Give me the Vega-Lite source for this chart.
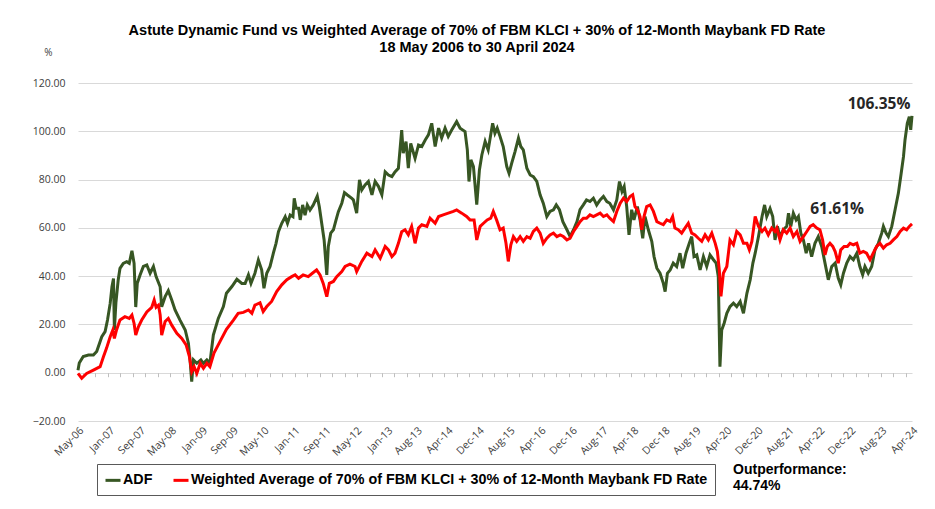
{
"$schema": "https://vega.github.io/schema/vega-lite/v6.json",
"width": 834, "height": 338,
"autosize": "none",
"padding": {"left": 78, "top": 83, "right": 23, "bottom": 88},
"background": "white",
"config": {"view": {"stroke": null}},
"title": {"text": ["Astute Dynamic Fund vs Weighted Average of 70% of FBM KLCI + 30% of 12-Month Maybank FD  Rate", "18 May 2006 to 30 April 2024"], "anchor": "middle", "dx": -18, "font": "Liberation Sans", "fontSize": 14.5, "fontWeight": "bold", "color": "#000000", "lineHeight": 17, "offset": -8},
"resolve": {"axis": {"x": "independent"}},
"datasets": {
"adf": [
{"d":"2006-05-18","v":1.0},{"d":"2006-05-28","v":4.0},{"d":"2006-06-28","v":6.7},{"d":"2006-08-08","v":7.3},{"d":"2006-09-16","v":7.3},{"d":"2006-10-12","v":8.8},{"d":"2006-11-21","v":14.9},{"d":"2006-12-17","v":17.0},{"d":"2007-01-05","v":21.8},{"d":"2007-01-26","v":28.7},{"d":"2007-02-09","v":35.6},{"d":"2007-02-21","v":39.0},{"d":"2007-02-28","v":17.7},{"d":"2007-03-12","v":28.9},{"d":"2007-03-30","v":38.4},{"d":"2007-04-13","v":43.2},{"d":"2007-05-09","v":45.3},{"d":"2007-06-05","v":46.0},{"d":"2007-06-25","v":45.3},{"d":"2007-07-16","v":50.5},{"d":"2007-08-02","v":45.3},{"d":"2007-08-15","v":27.2},{"d":"2007-08-27","v":37.0},{"d":"2007-09-18","v":40.5},{"d":"2007-10-14","v":44.0},{"d":"2007-11-10","v":44.6},{"d":"2007-12-06","v":41.2},{"d":"2008-01-01","v":44.0},{"d":"2008-01-22","v":39.8},{"d":"2008-02-23","v":35.6},{"d":"2008-03-06","v":27.3},{"d":"2008-04-02","v":31.5},{"d":"2008-04-27","v":34.0},{"d":"2008-05-24","v":30.1},{"d":"2008-06-19","v":26.0},{"d":"2008-07-28","v":21.8},{"d":"2008-09-07","v":17.7},{"d":"2008-10-02","v":12.2},{"d":"2008-10-15","v":5.3},{"d":"2008-10-28","v":-3.7},{"d":"2008-11-11","v":5.3},{"d":"2008-12-07","v":3.9},{"d":"2009-01-08","v":5.3},{"d":"2009-01-28","v":3.9},{"d":"2009-02-24","v":5.3},{"d":"2009-03-20","v":3.9},{"d":"2009-04-16","v":15.6},{"d":"2009-05-25","v":22.5},{"d":"2009-07-04","v":27.4},{"d":"2009-07-28","v":32.9},{"d":"2009-09-09","v":35.7},{"d":"2009-10-18","v":38.7},{"d":"2009-11-26","v":37.0},{"d":"2009-12-22","v":37.0},{"d":"2010-01-17","v":40.5},{"d":"2010-02-06","v":37.0},{"d":"2010-03-09","v":41.2},{"d":"2010-04-05","v":46.7},{"d":"2010-05-01","v":42.6},{"d":"2010-05-19","v":35.0},{"d":"2010-06-10","v":41.2},{"d":"2010-07-06","v":44.0},{"d":"2010-08-01","v":49.5},{"d":"2010-08-22","v":53.6},{"d":"2010-09-10","v":58.4},{"d":"2010-10-06","v":61.9},{"d":"2010-11-02","v":64.6},{"d":"2010-11-20","v":61.9},{"d":"2010-12-11","v":65.3},{"d":"2011-01-02","v":64.6},{"d":"2011-01-12","v":72.2},{"d":"2011-01-27","v":68.1},{"d":"2011-02-15","v":68.1},{"d":"2011-02-28","v":63.3},{"d":"2011-03-19","v":69.5},{"d":"2011-04-07","v":65.3},{"d":"2011-04-25","v":69.5},{"d":"2011-05-16","v":67.4},{"d":"2011-06-11","v":69.5},{"d":"2011-07-12","v":73.1},{"d":"2011-07-28","v":68.8},{"d":"2011-08-16","v":61.9},{"d":"2011-09-04","v":55.0},{"d":"2011-09-25","v":40.5},{"d":"2011-10-07","v":52.3},{"d":"2011-10-26","v":57.8},{"d":"2011-11-16","v":59.2},{"d":"2011-12-07","v":63.3},{"d":"2011-12-25","v":66.7},{"d":"2012-01-21","v":70.2},{"d":"2012-02-11","v":74.6},{"d":"2012-03-05","v":73.6},{"d":"2012-04-09","v":72.2},{"d":"2012-04-21","v":71.6},{"d":"2012-05-17","v":66.1},{"d":"2012-06-08","v":79.9},{"d":"2012-06-26","v":75.7},{"d":"2012-07-22","v":77.8},{"d":"2012-08-17","v":79.2},{"d":"2012-09-14","v":73.7},{"d":"2012-10-09","v":79.2},{"d":"2012-11-05","v":77.1},{"d":"2012-12-01","v":73.7},{"d":"2012-12-27","v":83.2},{"d":"2013-01-22","v":81.9},{"d":"2013-02-18","v":81.2},{"d":"2013-03-14","v":83.2},{"d":"2013-04-10","v":84.7},{"d":"2013-05-06","v":100.5},{"d":"2013-05-18","v":90.9},{"d":"2013-06-09","v":95.7},{"d":"2013-06-27","v":84.7},{"d":"2013-07-16","v":95.0},{"d":"2013-08-19","v":88.8},{"d":"2013-09-15","v":94.3},{"d":"2013-10-11","v":93.7},{"d":"2013-11-07","v":96.4},{"d":"2013-12-02","v":98.5},{"d":"2013-12-28","v":103.3},{"d":"2014-01-24","v":93.7},{"d":"2014-02-20","v":101.3},{"d":"2014-03-16","v":97.2},{"d":"2014-04-12","v":101.3},{"d":"2014-05-07","v":97.9},{"d":"2014-06-03","v":100.5},{"d":"2014-07-12","v":104.0},{"d":"2014-08-08","v":101.3},{"d":"2014-09-16","v":99.9},{"d":"2014-10-04","v":92.3},{"d":"2014-10-17","v":79.2},{"d":"2014-11-01","v":88.2},{"d":"2014-11-21","v":85.4},{"d":"2014-12-17","v":69.6},{"d":"2015-01-07","v":84.0},{"d":"2015-01-26","v":90.2},{"d":"2015-02-21","v":95.8},{"d":"2015-03-17","v":92.3},{"d":"2015-04-21","v":103.3},{"d":"2015-05-09","v":99.2},{"d":"2015-05-27","v":101.3},{"d":"2015-06-18","v":97.9},{"d":"2015-07-13","v":93.7},{"d":"2015-08-10","v":85.4},{"d":"2015-08-28","v":82.6},{"d":"2015-09-18","v":86.8},{"d":"2015-10-14","v":91.6},{"d":"2015-11-10","v":97.2},{"d":"2015-11-28","v":93.7},{"d":"2015-12-18","v":92.3},{"d":"2016-01-15","v":84.7},{"d":"2016-02-10","v":81.9},{"d":"2016-03-06","v":81.2},{"d":"2016-04-02","v":79.2},{"d":"2016-04-28","v":73.7},{"d":"2016-05-23","v":70.2},{"d":"2016-06-20","v":64.7},{"d":"2016-07-15","v":66.8},{"d":"2016-08-11","v":67.5},{"d":"2016-09-02","v":69.5},{"d":"2016-09-27","v":67.5},{"d":"2016-10-24","v":62.6},{"d":"2016-11-25","v":59.2},{"d":"2016-12-20","v":56.4},{"d":"2017-01-16","v":59.2},{"d":"2017-02-12","v":62.6},{"d":"2017-03-08","v":67.5},{"d":"2017-04-03","v":69.5},{"d":"2017-04-28","v":71.6},{"d":"2017-05-25","v":70.9},{"d":"2017-06-21","v":72.3},{"d":"2017-07-17","v":69.5},{"d":"2017-08-13","v":71.6},{"d":"2017-09-08","v":73.0},{"d":"2017-10-05","v":70.9},{"d":"2017-10-28","v":70.2},{"d":"2017-11-26","v":67.5},{"d":"2017-12-22","v":71.6},{"d":"2018-01-12","v":79.2},{"d":"2018-02-01","v":75.1},{"d":"2018-02-18","v":77.1},{"d":"2018-03-10","v":68.8},{"d":"2018-03-28","v":57.1},{"d":"2018-04-18","v":67.5},{"d":"2018-05-06","v":63.3},{"d":"2018-06-02","v":68.8},{"d":"2018-06-23","v":63.3},{"d":"2018-07-14","v":55.7},{"d":"2018-08-01","v":64.7},{"d":"2018-08-27","v":59.2},{"d":"2018-09-23","v":54.4},{"d":"2018-10-11","v":48.1},{"d":"2018-11-02","v":43.3},{"d":"2018-11-27","v":41.2},{"d":"2018-12-23","v":37.0},{"d":"2019-01-06","v":33.6},{"d":"2019-01-24","v":41.2},{"d":"2019-02-15","v":42.6},{"d":"2019-03-11","v":45.4},{"d":"2019-04-07","v":44.0},{"d":"2019-05-03","v":49.5},{"d":"2019-05-24","v":43.3},{"d":"2019-06-19","v":49.5},{"d":"2019-07-15","v":53.6},{"d":"2019-08-03","v":56.4},{"d":"2019-08-21","v":48.1},{"d":"2019-09-12","v":48.8},{"d":"2019-10-08","v":42.6},{"d":"2019-11-03","v":48.1},{"d":"2019-11-29","v":44.0},{"d":"2019-12-25","v":48.8},{"d":"2020-01-21","v":46.8},{"d":"2020-02-11","v":45.4},{"d":"2020-02-28","v":39.9},{"d":"2020-03-12","v":2.5},{"d":"2020-03-26","v":17.7},{"d":"2020-04-14","v":20.5},{"d":"2020-05-05","v":24.6},{"d":"2020-05-30","v":27.4},{"d":"2020-06-26","v":28.8},{"d":"2020-07-22","v":27.4},{"d":"2020-08-18","v":29.5},{"d":"2020-09-13","v":24.6},{"d":"2020-10-10","v":32.9},{"d":"2020-11-05","v":38.5},{"d":"2020-11-26","v":45.4},{"d":"2020-12-14","v":49.5},{"d":"2021-01-09","v":56.4},{"d":"2021-02-06","v":64.7},{"d":"2021-02-26","v":69.5},{"d":"2021-03-15","v":64.7},{"d":"2021-04-10","v":68.0},{"d":"2021-05-01","v":64.7},{"d":"2021-05-19","v":55.0},{"d":"2021-06-07","v":60.6},{"d":"2021-06-27","v":56.4},{"d":"2021-07-23","v":59.2},{"d":"2021-08-19","v":60.6},{"d":"2021-09-02","v":66.1},{"d":"2021-09-20","v":60.6},{"d":"2021-10-10","v":66.1},{"d":"2021-11-01","v":63.3},{"d":"2021-11-19","v":64.7},{"d":"2021-12-08","v":57.8},{"d":"2021-12-28","v":55.0},{"d":"2022-01-19","v":49.5},{"d":"2022-02-07","v":53.6},{"d":"2022-03-03","v":48.1},{"d":"2022-03-29","v":53.6},{"d":"2022-04-24","v":56.4},{"d":"2022-05-21","v":52.3},{"d":"2022-06-16","v":45.4},{"d":"2022-07-12","v":38.5},{"d":"2022-08-08","v":44.0},{"d":"2022-09-04","v":45.4},{"d":"2022-09-28","v":39.2},{"d":"2022-10-18","v":36.4},{"d":"2022-11-08","v":41.2},{"d":"2022-12-04","v":45.4},{"d":"2022-12-30","v":48.1},{"d":"2023-01-25","v":46.8},{"d":"2023-02-21","v":49.5},{"d":"2023-03-17","v":44.0},{"d":"2023-04-08","v":40.6},{"d":"2023-04-26","v":44.0},{"d":"2023-05-22","v":41.2},{"d":"2023-06-18","v":44.0},{"d":"2023-07-14","v":50.9},{"d":"2023-08-09","v":53.6},{"d":"2023-09-05","v":57.8},{"d":"2023-09-18","v":60.6},{"d":"2023-10-09","v":57.8},{"d":"2023-10-27","v":56.4},{"d":"2023-11-23","v":60.6},{"d":"2023-12-19","v":67.5},{"d":"2024-01-14","v":74.4},{"d":"2024-02-05","v":82.6},{"d":"2024-02-23","v":89.5},{"d":"2024-03-06","v":96.4},{"d":"2024-03-24","v":103.3},{"d":"2024-04-09","v":106.1},{"d":"2024-04-20","v":100.6},{"d":"2024-04-30","v":106.35}
],
"wa": [
{"d":"2006-05-18","v":-0.3},{"d":"2006-06-16","v":-2.3},{"d":"2006-07-25","v":-0.3},{"d":"2006-09-16","v":1.1},{"d":"2006-11-08","v":2.5},{"d":"2006-12-04","v":6.6},{"d":"2006-12-28","v":10.1},{"d":"2007-01-26","v":14.9},{"d":"2007-02-16","v":17.7},{"d":"2007-02-28","v":14.2},{"d":"2007-03-17","v":17.7},{"d":"2007-04-13","v":21.8},{"d":"2007-05-22","v":23.2},{"d":"2007-06-25","v":22.5},{"d":"2007-07-16","v":23.9},{"d":"2007-08-02","v":20.4},{"d":"2007-08-15","v":15.6},{"d":"2007-09-05","v":19.0},{"d":"2007-10-01","v":21.8},{"d":"2007-11-10","v":25.2},{"d":"2007-12-19","v":27.1},{"d":"2008-01-07","v":30.1},{"d":"2008-01-22","v":27.1},{"d":"2008-02-10","v":28.0},{"d":"2008-02-23","v":23.9},{"d":"2008-03-06","v":15.6},{"d":"2008-04-02","v":21.2},{"d":"2008-04-27","v":22.5},{"d":"2008-05-24","v":19.7},{"d":"2008-07-03","v":16.3},{"d":"2008-08-11","v":14.2},{"d":"2008-09-14","v":11.5},{"d":"2008-10-10","v":6.7},{"d":"2008-10-28","v":0.4},{"d":"2008-11-16","v":2.5},{"d":"2008-12-07","v":-0.3},{"d":"2009-01-03","v":3.9},{"d":"2009-01-28","v":1.8},{"d":"2009-02-24","v":3.9},{"d":"2009-03-20","v":2.5},{"d":"2009-04-21","v":8.1},{"d":"2009-06-08","v":13.0},{"d":"2009-07-28","v":18.0},{"d":"2009-09-21","v":21.8},{"d":"2009-10-28","v":24.6},{"d":"2009-12-08","v":25.0},{"d":"2010-01-17","v":26.0},{"d":"2010-02-13","v":24.6},{"d":"2010-03-09","v":28.0},{"d":"2010-04-18","v":29.0},{"d":"2010-05-13","v":25.3},{"d":"2010-06-10","v":27.4},{"d":"2010-07-18","v":29.5},{"d":"2010-08-27","v":33.6},{"d":"2010-10-06","v":36.4},{"d":"2010-11-15","v":38.5},{"d":"2010-12-23","v":39.8},{"d":"2011-01-19","v":40.5},{"d":"2011-02-15","v":39.1},{"d":"2011-03-23","v":40.5},{"d":"2011-05-02","v":39.8},{"d":"2011-06-11","v":41.5},{"d":"2011-07-07","v":42.6},{"d":"2011-08-03","v":40.5},{"d":"2011-08-28","v":37.0},{"d":"2011-09-25","v":31.5},{"d":"2011-10-15","v":37.0},{"d":"2011-11-16","v":37.8},{"d":"2011-12-12","v":39.8},{"d":"2012-01-21","v":41.9},{"d":"2012-02-16","v":44.0},{"d":"2012-03-25","v":45.0},{"d":"2012-05-04","v":44.0},{"d":"2012-05-17","v":41.9},{"d":"2012-06-26","v":46.1},{"d":"2012-08-05","v":49.5},{"d":"2012-09-14","v":48.1},{"d":"2012-10-09","v":50.9},{"d":"2012-11-18","v":47.4},{"d":"2012-12-27","v":52.3},{"d":"2013-01-22","v":50.9},{"d":"2013-02-18","v":48.1},{"d":"2013-03-14","v":49.5},{"d":"2013-04-10","v":53.6},{"d":"2013-05-06","v":58.4},{"d":"2013-06-01","v":59.2},{"d":"2013-06-27","v":57.1},{"d":"2013-07-23","v":60.6},{"d":"2013-08-19","v":53.6},{"d":"2013-09-15","v":59.9},{"d":"2013-10-11","v":61.3},{"d":"2013-11-20","v":60.6},{"d":"2013-12-15","v":64.0},{"d":"2014-01-24","v":61.9},{"d":"2014-02-20","v":64.7},{"d":"2014-03-28","v":65.4},{"d":"2014-05-07","v":66.1},{"d":"2014-06-16","v":66.8},{"d":"2014-07-12","v":67.4},{"d":"2014-08-21","v":66.1},{"d":"2014-09-28","v":64.7},{"d":"2014-10-25","v":63.3},{"d":"2014-11-26","v":63.3},{"d":"2014-12-17","v":55.0},{"d":"2015-01-13","v":60.6},{"d":"2015-02-08","v":61.9},{"d":"2015-03-09","v":63.3},{"d":"2015-04-06","v":64.0},{"d":"2015-04-26","v":66.8},{"d":"2015-05-22","v":63.3},{"d":"2015-06-18","v":59.2},{"d":"2015-07-13","v":59.9},{"d":"2015-08-04","v":53.6},{"d":"2015-08-22","v":46.1},{"d":"2015-09-11","v":53.0},{"d":"2015-10-01","v":56.4},{"d":"2015-10-27","v":54.4},{"d":"2015-11-23","v":56.4},{"d":"2015-12-18","v":54.4},{"d":"2016-01-15","v":56.4},{"d":"2016-02-10","v":55.7},{"d":"2016-03-06","v":58.5},{"d":"2016-04-02","v":59.9},{"d":"2016-04-28","v":57.8},{"d":"2016-05-23","v":53.6},{"d":"2016-06-20","v":55.7},{"d":"2016-07-15","v":57.1},{"d":"2016-08-11","v":57.8},{"d":"2016-09-07","v":56.4},{"d":"2016-10-03","v":57.1},{"d":"2016-10-28","v":56.4},{"d":"2016-11-25","v":55.0},{"d":"2016-12-20","v":55.7},{"d":"2017-01-16","v":58.5},{"d":"2017-02-12","v":60.6},{"d":"2017-03-08","v":62.6},{"d":"2017-04-03","v":64.0},{"d":"2017-04-28","v":64.0},{"d":"2017-05-25","v":65.4},{"d":"2017-06-21","v":64.7},{"d":"2017-07-17","v":65.4},{"d":"2017-08-13","v":66.1},{"d":"2017-09-08","v":64.7},{"d":"2017-10-05","v":65.4},{"d":"2017-10-28","v":64.0},{"d":"2017-11-26","v":62.6},{"d":"2017-12-22","v":66.8},{"d":"2018-01-18","v":70.2},{"d":"2018-02-13","v":72.3},{"d":"2018-03-10","v":70.9},{"d":"2018-04-05","v":73.0},{"d":"2018-04-26","v":73.7},{"d":"2018-05-14","v":68.8},{"d":"2018-06-02","v":67.5},{"d":"2018-06-23","v":64.7},{"d":"2018-07-06","v":59.2},{"d":"2018-07-24","v":64.7},{"d":"2018-08-14","v":68.8},{"d":"2018-09-10","v":69.5},{"d":"2018-10-06","v":66.8},{"d":"2018-11-02","v":62.6},{"d":"2018-11-27","v":61.9},{"d":"2018-12-23","v":61.3},{"d":"2019-01-19","v":63.3},{"d":"2019-02-15","v":62.6},{"d":"2019-03-06","v":64.7},{"d":"2019-03-24","v":59.9},{"d":"2019-04-19","v":59.2},{"d":"2019-05-16","v":57.8},{"d":"2019-06-11","v":59.9},{"d":"2019-07-07","v":61.9},{"d":"2019-08-03","v":57.8},{"d":"2019-08-29","v":57.1},{"d":"2019-09-24","v":55.7},{"d":"2019-10-21","v":54.4},{"d":"2019-11-16","v":57.1},{"d":"2019-12-12","v":55.0},{"d":"2020-01-08","v":57.8},{"d":"2020-02-04","v":53.6},{"d":"2020-02-21","v":50.2},{"d":"2020-03-07","v":42.6},{"d":"2020-03-20","v":31.6},{"d":"2020-04-08","v":41.2},{"d":"2020-05-05","v":44.0},{"d":"2020-05-30","v":55.0},{"d":"2020-06-26","v":53.0},{"d":"2020-07-22","v":58.5},{"d":"2020-08-18","v":57.1},{"d":"2020-09-13","v":53.6},{"d":"2020-10-10","v":53.6},{"d":"2020-10-29","v":50.9},{"d":"2020-11-18","v":54.4},{"d":"2020-12-14","v":64.7},{"d":"2021-01-09","v":60.6},{"d":"2021-02-06","v":58.5},{"d":"2021-03-01","v":59.9},{"d":"2021-03-27","v":57.1},{"d":"2021-04-23","v":59.9},{"d":"2021-05-19","v":58.5},{"d":"2021-06-02","v":59.9},{"d":"2021-06-27","v":55.0},{"d":"2021-07-23","v":59.2},{"d":"2021-08-19","v":57.8},{"d":"2021-09-15","v":59.9},{"d":"2021-10-10","v":56.4},{"d":"2021-11-07","v":58.5},{"d":"2021-12-02","v":54.4},{"d":"2021-12-28","v":56.4},{"d":"2022-01-24","v":58.5},{"d":"2022-02-19","v":60.6},{"d":"2022-03-15","v":61.3},{"d":"2022-04-12","v":59.9},{"d":"2022-05-07","v":59.2},{"d":"2022-05-28","v":55.0},{"d":"2022-06-16","v":48.8},{"d":"2022-07-04","v":52.3},{"d":"2022-07-25","v":53.6},{"d":"2022-08-16","v":52.3},{"d":"2022-09-04","v":50.2},{"d":"2022-09-28","v":45.4},{"d":"2022-10-18","v":50.9},{"d":"2022-11-13","v":52.3},{"d":"2022-12-09","v":52.3},{"d":"2022-12-30","v":53.6},{"d":"2023-01-25","v":53.0},{"d":"2023-02-21","v":53.6},{"d":"2023-03-17","v":49.5},{"d":"2023-04-13","v":50.2},{"d":"2023-05-09","v":49.5},{"d":"2023-06-05","v":46.8},{"d":"2023-06-30","v":49.5},{"d":"2023-07-27","v":52.3},{"d":"2023-08-22","v":53.6},{"d":"2023-09-18","v":51.6},{"d":"2023-10-14","v":53.0},{"d":"2023-11-10","v":53.6},{"d":"2023-12-05","v":55.0},{"d":"2024-01-02","v":56.4},{"d":"2024-01-28","v":58.5},{"d":"2024-02-23","v":59.9},{"d":"2024-03-19","v":59.2},{"d":"2024-04-09","v":60.6},{"d":"2024-04-30","v":61.61}
],
"pct": [
{"d":"2023-08-15","v":111.2,"t":"106.35%"},
{"d":"2022-09-19","v":67.8,"t":"61.61%"}
],
"outp": [
{"d":"2020-06-23","v":-40.3,"t":"Outperformance:"},
{"d":"2020-06-23","v":-46.9,"t":"44.74%"}
]
},
"encoding": {
"y": {"field": "v", "type": "quantitative",
"scale": {"domain": [-20, 120], "nice": false, "zero": false},
"axis": {"title": "%", "titleAngle": 0, "titleX": -30, "titleY": -31, "titleAlign": "center", "titleBaseline": "middle", "titleFont": "Open Sans", "titleFontSize": 10, "titleFontWeight": "normal", "titleColor": "#404040",
"values": [-20, 0, 20, 40, 60, 80, 100, 120], "format": ".2f", "grid": true, "gridColor": "#d9d9d9", "gridWidth": 1, "domain": false, "ticks": false, "labelPadding": 13, "labelFont": "Open Sans", "labelFontSize": 10.5, "labelColor": "#404040"}}
},
"layer": [
{
"data": {"name": "adf"},
"mark": {"type": "line", "strokeWidth": 3, "interpolate": "linear"},
"encoding": {
"x": {"field": "d", "type": "temporal",
"scale": {"type": "utc", "domain": [{"year": 2006, "month": 5, "date": 18, "utc": true}, {"year": 2024, "month": 4, "date": 30, "utc": true}]},
"axis": {"orient": "bottom", "title": null, "format": "%b-%y", "labelAngle": -45, "grid": false, "domain": false, "ticks": false, "labelPadding": 4, "labelFont": "Open Sans", "labelFontSize": 10.5, "labelColor": "#404040", "labelOverlap": false, "labelBound": false, "labelFlush": false,
"values": [
{"year":2006,"month":5,"date":18,"utc":true},{"year":2007,"month":1,"date":17,"utc":true},{"year":2007,"month":9,"date":16,"utc":true},{"year":2008,"month":5,"date":16,"utc":true},{"year":2009,"month":1,"date":15,"utc":true},{"year":2009,"month":9,"date":14,"utc":true},{"year":2010,"month":5,"date":14,"utc":true},{"year":2011,"month":1,"date":13,"utc":true},{"year":2011,"month":9,"date":13,"utc":true},{"year":2012,"month":5,"date":12,"utc":true},{"year":2013,"month":1,"date":11,"utc":true},{"year":2013,"month":8,"date":31,"utc":true},{"year":2014,"month":4,"date":30,"utc":true},{"year":2014,"month":12,"date":31,"utc":true},{"year":2015,"month":8,"date":31,"utc":true},{"year":2016,"month":4,"date":30,"utc":true},{"year":2016,"month":12,"date":31,"utc":true},{"year":2017,"month":8,"date":31,"utc":true},{"year":2018,"month":4,"date":30,"utc":true},{"year":2018,"month":12,"date":31,"utc":true},{"year":2019,"month":8,"date":31,"utc":true},{"year":2020,"month":4,"date":30,"utc":true},{"year":2020,"month":12,"date":31,"utc":true},{"year":2021,"month":8,"date":31,"utc":true},{"year":2022,"month":4,"date":30,"utc":true},{"year":2022,"month":12,"date":31,"utc":true},{"year":2023,"month":8,"date":31,"utc":true},{"year":2024,"month":4,"date":30,"utc":true}
]}},
"color": {"datum": "ADF", "type": "nominal",
"scale": {"domain": ["ADF", "Weighted Average of 70% of FBM KLCI + 30% of 12-Month Maybank FD Rate"], "range": ["#375623", "#ff0000"]},
"legend": {"orient": "none", "legendX": 19, "legendY": 381, "direction": "horizontal", "title": null, "strokeColor": "#595959", "padding": 7, "symbolType": "stroke", "symbolStrokeWidth": 3, "symbolSize": 225, "labelFont": "Liberation Sans", "labelFontSize": 14.3, "labelFontWeight": "bold", "labelColor": "#000000", "labelLimit": 700, "columnPadding": 14, "labelOffset": 1}}
}
},
{
"data": {"name": "wa"},
"mark": {"type": "line", "strokeWidth": 3, "interpolate": "linear"},
"encoding": {
"x": {"field": "d", "type": "temporal",
"axis": {"orient": "bottom", "offset": -48.3, "title": null, "labels": false, "grid": false, "domain": false, "ticks": true, "tickSize": 4, "tickColor": "#bfbfbf", "tickCount": {"interval": "week", "step": 14}}},
"color": {"datum": "Weighted Average of 70% of FBM KLCI + 30% of 12-Month Maybank FD Rate", "type": "nominal"}
}
},
{
"data": {"name": "pct"},
"mark": {"type": "text", "font": "Open Sans", "fontSize": 15.5, "fontWeight": "bold", "color": "#262626", "align": "center", "baseline": "middle"},
"encoding": {"x": {"field": "d", "type": "temporal", "axis": null}, "text": {"field": "t"}}
},
{
"data": {"name": "outp"},
"mark": {"type": "text", "font": "Liberation Sans", "fontSize": 14, "fontWeight": "bold", "color": "#000000", "align": "left", "baseline": "middle"},
"encoding": {"x": {"field": "d", "type": "temporal", "axis": null}, "text": {"field": "t"}}
}
]
}
